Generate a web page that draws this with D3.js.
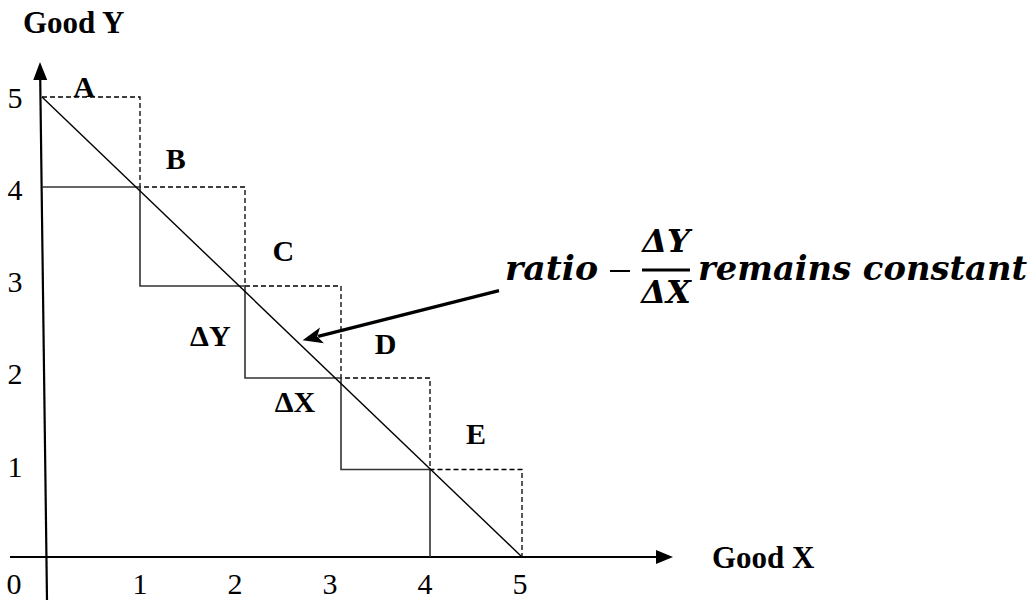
<!DOCTYPE html>
<html>
<head>
<meta charset="utf-8">
<script src="https://cdn.jsdelivr.net/npm/d3@7"></script>
<style>
  html, body { margin: 0; padding: 0; background: #fff; }
  svg { display: block; }
</style>
</head>
<body>
<div id="chart"></div>
<script>
// ---------- data ----------
const xTickValues = [0, 1, 2, 3, 4, 5];
const yTickValues = [1, 2, 3, 4, 5];
const xAxisTitle = "Good X";
const yAxisTitle = "Good Y";

// straight budget/frontier line
const frontierX = [0, 5];
const frontierY = [5, 0];

// solid staircase (lower steps)
const solidStepX = [0, 1, 1, 2, 2, 3, 3, 4, 4];
const solidStepY = [4, 4, 3, 3, 2, 2, 1, 1, 0];

// dashed staircase (upper steps)
const dashedStepX = [0, 1, 1, 2, 2, 3, 3, 4, 4, 5, 5];
const dashedStepY = [5, 5, 4, 4, 3, 3, 2, 2, 1, 1, 0];

// point labels (data units)
const pointLabels = ["A", "B", "C", "D", "E"];
const pointLabelX = [0.43, 1.34, 2.4, 3.5, 4.5];
const pointLabelY = [5.12, 4.32, 3.36, 2.38, 1.39];

// delta labels (data units)
const deltaLabels = ["ΔY", "ΔX"];
const deltaLabelX = [1.67, 2.52];
const deltaLabelY = [2.46, 1.74];

// annotation arrow (data units): tail -> tip
const arrowX = [4.75, 2.6];
const arrowY = [2.95, 2.41];

// ---------- layout ----------
const W = 1035, H = 600;
const svg = d3.select("#chart").append("svg")
  .attr("width", W).attr("height", H)
  .attr("viewBox", `0 0 ${W} ${H}`);

// hand-drawn grid: slightly uneven spacing -> polylinear scales
const x = d3.scaleLinear().domain([0, 1, 2, 3, 4, 5]).range([42, 140, 245, 341, 430, 522]);
const y = d3.scaleLinear().domain([0, 1, 2, 3, 4, 5]).range([557, 469.5, 378, 286, 187, 97]);
// tick labels are evenly spaced
const xl = d3.scaleLinear().domain([0, 5]).range([45, 520]);
const yl = d3.scaleLinear().domain([0, 5]).range([558.5, 97]);

const serif = "'Liberation Serif', 'Times New Roman', serif";
const mathFont = "'DejaVu Serif', serif";

// ---------- axes ----------
const axisY0 = y(0);
const xAxisStart = 10, xAxisTip = 673;
svg.append("line")
  .attr("x1", xAxisStart).attr("y1", axisY0)
  .attr("x2", xAxisTip - 14).attr("y2", axisY0)
  .attr("stroke", "#000").attr("stroke-width", 2.2);
svg.append("path")
  .attr("d", `M${xAxisTip},${axisY0} L${xAxisTip - 17},${axisY0 - 7} L${xAxisTip - 17},${axisY0 + 7} Z`)
  .attr("fill", "#000");

const yAxisBottom = [47, 600], yAxisTop = [40, 62];
{
  const dx = yAxisTop[0] - yAxisBottom[0], dy = yAxisTop[1] - yAxisBottom[1];
  const len = Math.hypot(dx, dy), ux = dx / len, uy = dy / len;
  const bx = yAxisTop[0] - ux * 18, by = yAxisTop[1] - uy * 18;
  svg.append("line")
    .attr("x1", yAxisBottom[0]).attr("y1", yAxisBottom[1])
    .attr("x2", bx + ux * 4).attr("y2", by + uy * 4)
    .attr("stroke", "#000").attr("stroke-width", 2.2);
  svg.append("path")
    .attr("d", `M${yAxisTop[0]},${yAxisTop[1]} L${bx - uy * 7},${by + ux * 7} L${bx + uy * 7},${by - ux * 7} Z`)
    .attr("fill", "#000");
}

// tick labels
svg.append("g").selectAll("text").data(xTickValues).join("text")
  .attr("x", d => xl(d) + (d === 0 ? -31 : 0))
  .attr("y", 594)
  .attr("text-anchor", "middle")
  .attr("font-family", serif).attr("font-size", 30)
  .text(d => d);

svg.append("g").selectAll("text").data(yTickValues).join("text")
  .attr("x", 15)
  .attr("y", d => yl(d))
  .attr("dy", "0.35em")
  .attr("text-anchor", "middle")
  .attr("font-family", serif).attr("font-size", 30)
  .text(d => d);

// axis titles
svg.append("text")
  .attr("x", 23).attr("y", 33)
  .attr("font-family", serif).attr("font-weight", "bold").attr("font-size", 31)
  .text(yAxisTitle);
svg.append("text")
  .attr("x", 712).attr("y", 568)
  .attr("font-family", serif).attr("font-weight", "bold").attr("font-size", 31)
  .text(xAxisTitle);

// ---------- marks ----------
const line = d3.line().x(d => x(d[0])).y(d => y(d[1]));

svg.append("path")
  .datum(dashedStepX.map((v, i) => [v, dashedStepY[i]]))
  .attr("d", line)
  .attr("fill", "none").attr("stroke", "#000")
  .attr("stroke-width", 1.3).attr("stroke-dasharray", "5,3");

svg.append("path")
  .datum(solidStepX.map((v, i) => [v, solidStepY[i]]))
  .attr("d", line)
  .attr("fill", "none").attr("stroke", "#333")
  .attr("stroke-width", 1.6);

svg.append("path")
  .datum(frontierX.map((v, i) => [v, frontierY[i]]))
  .attr("d", line)
  .attr("fill", "none").attr("stroke", "#000")
  .attr("stroke-width", 1.4);

// point labels
svg.append("g").selectAll("text").data(pointLabels).join("text")
  .attr("x", (d, i) => x(pointLabelX[i]))
  .attr("y", (d, i) => y(pointLabelY[i]))
  .attr("dy", "0.35em")
  .attr("text-anchor", "middle")
  .attr("font-family", serif).attr("font-weight", "bold").attr("font-size", 30)
  .text(d => d);

svg.append("g").selectAll("text").data(deltaLabels).join("text")
  .attr("x", (d, i) => x(deltaLabelX[i]))
  .attr("y", (d, i) => y(deltaLabelY[i]))
  .attr("dy", "0.35em")
  .attr("text-anchor", "middle")
  .attr("font-family", serif).attr("font-weight", "bold").attr("font-size", 30)
  .text(d => d);

// annotation arrow
{
  const x1 = x(arrowX[0]), y1 = y(arrowY[0]), x2 = x(arrowX[1]), y2 = y(arrowY[1]);
  const dx = x2 - x1, dy = y2 - y1, len = Math.hypot(dx, dy);
  const ux = dx / len, uy = dy / len;
  const hl = 20, hw = 8;
  const bx = x2 - ux * hl, by = y2 - uy * hl;
  svg.append("line")
    .attr("x1", x1).attr("y1", y1).attr("x2", bx + ux * 4).attr("y2", by + uy * 4)
    .attr("stroke", "#000").attr("stroke-width", 3.2);
  svg.append("path")
    .attr("d", `M${x2},${y2} L${bx - uy * hw},${by + ux * hw} L${bx + ux * 5},${by + uy * 5} L${bx + uy * hw},${by - ux * hw} Z`)
    .attr("fill", "#000");
}

// ---------- math annotation ----------
const math = svg.append("g")
  .attr("font-family", mathFont).attr("font-weight", "bold").attr("font-style", "italic")
  .attr("fill", "#000");
math.append("text").attr("x", 505).attr("y", 280).attr("font-size", 34)
  .attr("textLength", 93).attr("lengthAdjust", "spacingAndGlyphs").text("ratio");
math.append("rect").attr("x", 610).attr("y", 270).attr("width", 20).attr("height", 2);
math.append("text").attr("x", 666).attr("y", 252).attr("font-size", 32)
  .attr("text-anchor", "middle").text("ΔY");
math.append("rect").attr("x", 642).attr("y", 268.5).attr("width", 48).attr("height", 3);
math.append("text").attr("x", 666).attr("y", 303).attr("font-size", 32)
  .attr("text-anchor", "middle").text("ΔX");
math.append("text").attr("x", 698).attr("y", 280).attr("font-size", 34)
  .attr("textLength", 329).attr("lengthAdjust", "spacingAndGlyphs").text("remains constant");
</script>
</body>
</html>
